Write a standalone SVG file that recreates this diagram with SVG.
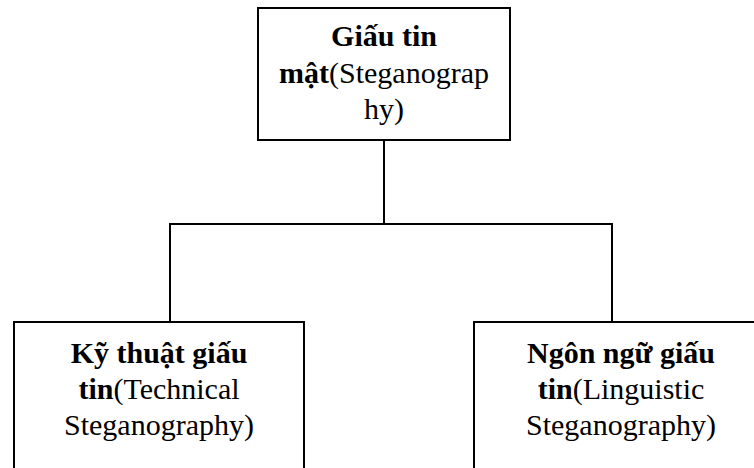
<svg xmlns="http://www.w3.org/2000/svg" width="754" height="468" viewBox="0 0 754 468">
  <style>
    .box { fill: #ffffff; stroke: #000000; stroke-width: 2; }
    .wire { fill: none; stroke: #000000; stroke-width: 2; }
    .label { font-family: "Liberation Serif", "Times New Roman", serif; font-size: 30px; fill: #000000; text-anchor: middle; }
    .b { font-weight: bold; }
  </style>
  <rect width="754" height="468" fill="#ffffff"/>

  <!-- connectors -->
  <g id="connectors">
    <polyline class="wire" points="384,140 384,224"/>
    <polyline class="wire" points="170,322 170,224 612,224 612,322"/>
  </g>

  <!-- root node -->
  <g id="node-root">
    <rect class="box" x="258" y="8" width="252" height="132"/>
    <text class="label" x="384" y="46"><tspan class="b">Giấu tin</tspan></text>
    <text class="label" x="384" y="83"><tspan class="b">mật</tspan>(Steganograp</text>
    <text class="label" x="384" y="119">hy)</text>
  </g>

  <!-- technical branch -->
  <g id="node-technical">
    <rect class="box" x="14" y="322" width="290" height="160"/>
    <text class="label" x="159" y="363"><tspan class="b">Kỹ thuật giấu</tspan></text>
    <text class="label" x="159" y="399"><tspan class="b">tin</tspan>(Technical</text>
    <text class="label" x="159" y="435">Steganography)</text>
  </g>

  <!-- linguistic branch -->
  <g id="node-linguistic">
    <rect class="box" x="474" y="322" width="294" height="160"/>
    <text class="label" x="621" y="363"><tspan class="b">Ngôn ngữ giấu</tspan></text>
    <text class="label" x="621" y="399"><tspan class="b">tin</tspan>(Linguistic</text>
    <text class="label" x="621" y="435">Steganography)</text>
  </g>
</svg>
